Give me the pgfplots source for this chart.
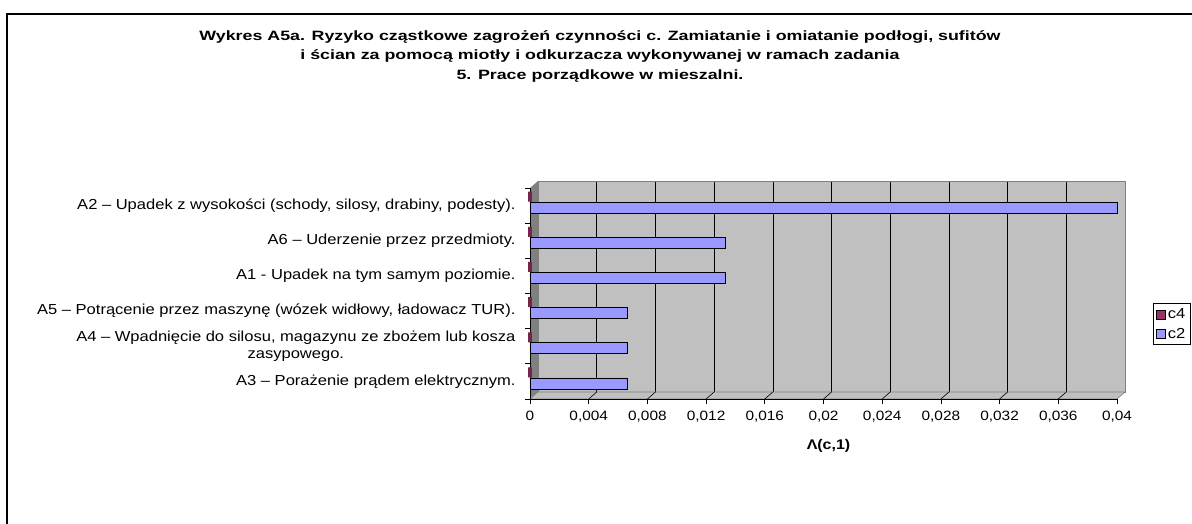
\documentclass[border=0pt]{standalone}
\usepackage{fontspec}
\setmainfont{Liberation Sans}
\usepackage{pgfplots}
\pgfplotsset{compat=1.18}
\definecolor{cc2}{HTML}{9999FF}
\definecolor{cc4}{HTML}{993366}
\definecolor{wall}{HTML}{C0C0C0}
\definecolor{wallside}{HTML}{808080}
\newcommand\sx[1]{\scalebox{1.14}[1]{#1}}
\newcommand\tx[1]{\scalebox{1.32}[1]{#1}}
\begin{document}
\begin{tikzpicture}[x=1pt,y=1pt]
\path[use as bounding box] (0,0) rectangle (1192,523);
\fill[white] (0,0) rectangle (1192,523);
% outer frame
\draw[line width=1.4pt] (7,-20) -- (7,509) -- (1210,509);
% title
\node[font=\fontsize{13.5}{16}\selectfont\bfseries, align=center] at (600,467)
 {\tx{Wykres A5a. Ryzyko cząstkowe zagrożeń czynności c. Zamiatanie i omiatanie podłogi, sufitów}\\[3.5pt]
  \tx{i ścian za pomocą miotły i odkurzacza wykonywanej w ramach zadania}\\[3.5pt]
  \tx{5. Prace porządkowe w mieszalni.}};
% back wall
\begin{axis}[
  at={(538pt,131pt)}, anchor=south west,
  width=587pt, height=211pt, scale only axis,
  xmin=0, xmax=0.04, ymin=0, ymax=1,
  scaled x ticks=false,
  xtick={0,0.004,...,0.04}, ytick=\empty,
  xticklabels={}, major tick length=0pt,
  xmajorgrids, grid style={black, line width=0.6pt},
  axis background/.style={fill=wall},
  axis line style={wallside, line width=0.6pt},
]
\addplot[draw=none] coordinates {(0,0)};
\end{axis}
% left wall and floor
\fill[wallside] (530,124) -- (538,131) -- (538,342) -- (530,335) -- cycle;
\filldraw[fill=wall, draw=wallside, line width=0.6pt] (530,124) -- (1117,124) -- (1125,131) -- (538,131) -- cycle;
\foreach \i in {1,...,9} {\draw[black, line width=0.6pt] (530+58.7*\i,124) -- (538+58.7*\i,131);}
% front axis with data
\begin{axis}[
  at={(530pt,124pt)}, anchor=south west,
  width=587pt, height=211pt, scale only axis,
  xmin=0, xmax=0.04, ymin=0.5, ymax=6.5,
  scaled x ticks=false,
  axis x line*=bottom, axis y line*=left,
  axis line style={black, line width=0.8pt, -},
  tick style={black, line width=0.8pt},
  tick align=outside, major tick length=5pt,
  xtick={0,0.004,...,0.04},
  xticklabels={\sx{0},\sx{0,004},\sx{0,008},\sx{0,012},\sx{0,016},\sx{0,02},\sx{0,024},\sx{0,028},\sx{0,032},\sx{0,036},\sx{0,04}},
  xticklabel style={font=\fontsize{13.5}{15}\selectfont, yshift=-4pt},
  ytick={0.5,1.5,2.5,3.5,4.5,5.5},
  extra y ticks={6.5}, extra y tick labels={},
  yticklabels={
    {\sx{A3 – Porażenie prądem elektrycznym.}},
    {\sx{A4 – Wpadnięcie do silosu, magazynu ze zbożem lub kosza}\\\sx{zasypowego.}},
    {\sx{A5 – Potrącenie przez maszynę (wózek widłowy, ładowacz TUR).}},
    {\sx{A1 - Upadek na tym samym poziomie.}},
    {\sx{A6 – Uderzenie przez przedmioty.}},
    {\sx{A2 – Upadek z wysokości (schody, silosy, drabiny, podesty).}}},
  yticklabel style={font=\fontsize{14.5}{17}\selectfont, align=center, yshift=17.6pt, xshift=-6pt},
  xlabel={\sx{\textbf{Λ(c,1)}}},
  xlabel style={font=\fontsize{14}{16}\selectfont, yshift=-10pt, xshift=5pt},
  legend style={at={(1.0613,0.355)}, anchor=west, draw=black, line width=0.6pt,
    font=\fontsize{14.5}{16}\selectfont, row sep=4pt, inner sep=3pt},
  legend image code/.code={\draw[#1, line width=0.5pt] (0pt,-4.5pt) rectangle (9pt,4.5pt);},
  clip=false,
]
\addplot[xbar, bar width=10pt, bar shift=9pt, fill=cc4, draw=cc4!75!black, line width=4pt,
  legend image code/.code={\draw[fill=cc4, draw=black, line width=0.5pt] (0pt,-4.5pt) rectangle (9pt,4.5pt);}]
  coordinates {(0,1) (0,2) (0,3) (0,4) (0,5) (0,6)};
\addlegendentry{\sx{c4}}
\addplot[xbar, bar width=11pt, bar shift=-2pt, fill=cc2, draw=black, line width=0.8pt]
  coordinates {(0.00667,1) (0.00667,2) (0.00667,3) (0.01333,4) (0.01333,5) (0.04,6)};
\addlegendentry{\sx{c2}}
\end{axis}
\end{tikzpicture}
\end{document}
